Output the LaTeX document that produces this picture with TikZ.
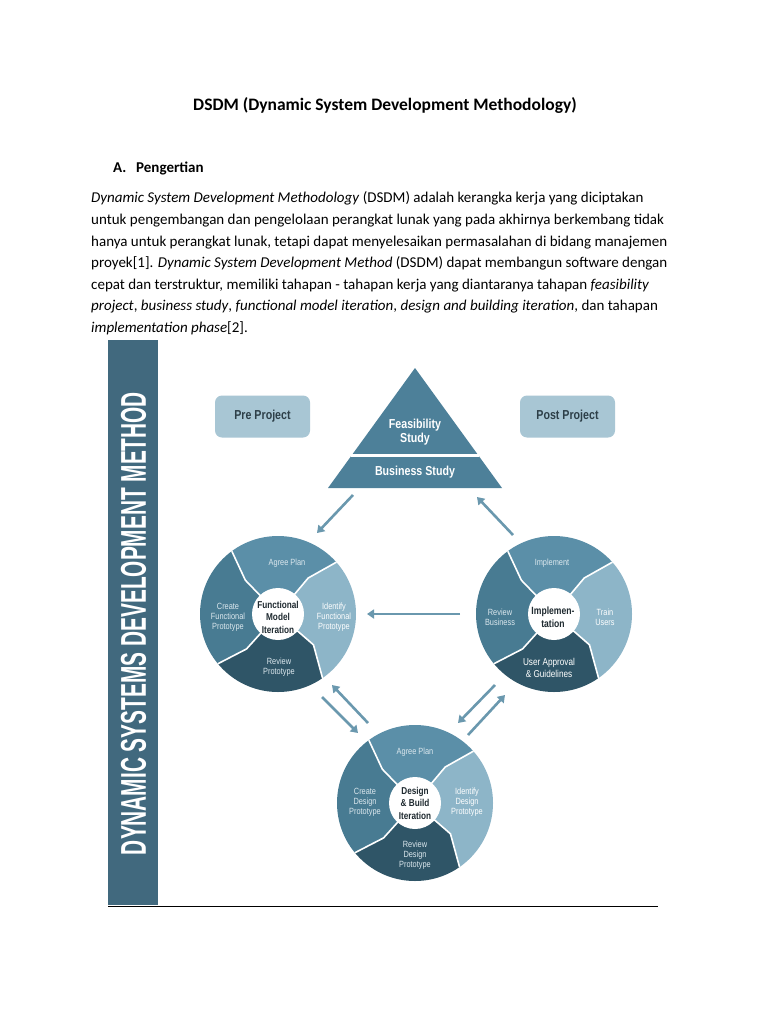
\documentclass[tikz,border=0pt]{standalone}
\usepackage{fontspec}
\setmainfont{Carlito}
\newfontfamily\cond[FakeStretch=0.82]{Liberation Sans}
\usetikzlibrary{arrows.meta}
\definecolor{barc}{HTML}{41697E}
\definecolor{tric}{HTML}{4D8099}
\definecolor{boxc}{HTML}{A8C6D4}
\definecolor{boxt}{HTML}{2D3F48}
\definecolor{cagree}{HTML}{5B8FA8}
\definecolor{cident}{HTML}{8DB5C8}
\definecolor{crev}{HTML}{2F5567}
\definecolor{ccreate}{HTML}{487B92}
\definecolor{arrc}{HTML}{6A98AE}
\definecolor{ctxt}{HTML}{1F2A30}
\definecolor{stxt}{HTML}{DCE8EE}
\newcommand\drawwheel[2]{%
\begin{scope}[shift={(#1,#2)}, y=1pt]
 \begin{scope}
  \clip (0,0) circle (78);
  \fill[cagree] (0,0) -- (134:47) -- (123:110) -- (90:125) -- (38:110) -- (50:47) -- cycle;
  \fill[cident] (0,0) -- (50:47) -- (38:110) -- (0:125) -- (-61:110) -- (-41:47) -- cycle;
  \fill[crev] (0,0) -- (-41:47) -- (-61:110) -- (-90:125) -- (-144:110) -- (-132:47) -- cycle;
  \fill[ccreate] (0,0) -- (-132:47) -- (-144:110) -- (180:125) -- (123:110) -- (134:47) -- cycle;
  \draw[white, line width=1.6pt, line join=round]
     (0,0) -- (134:47) -- (123:110)
     (0,0) -- (50:47) -- (38:110)
     (0,0) -- (-41:47) -- (-61:110)
     (0,0) -- (-132:47) -- (-144:110);
 \end{scope}
 \fill[white] (0,0) circle (26);
\end{scope}}
\begin{document}
\begin{tikzpicture}[x=1pt,y=-1pt,
  body/.style={anchor=base west, inner sep=0, font=\fontsize{15}{17}\selectfont},
  prebox/.style={fill=boxc, rounded corners=7pt, minimum width=95pt, minimum height=42pt,
     font=\cond\bfseries\fontsize{13}{15}\selectfont, text=boxt, inner sep=0},
  tritxt/.style={font=\cond\bfseries\fontsize{13}{15}\selectfont, text=white, inner sep=0, align=center},
  seg/.style={font=\cond\fontsize{9}{10}\selectfont, text=stxt, align=center, inner sep=0},
  ctr/.style={font=\cond\bfseries\fontsize{10}{12.5}\selectfont, text=ctxt, align=center, inner sep=0},
  arr/.style={draw=arrc, line width=2.6pt, -{Triangle[length=7pt,width=9pt]}}]
\useasboundingbox (0,0) rectangle (768,1024);
\fill[white] (0,0) rectangle (768,1024);

% header text
\node[anchor=base, inner sep=0, font=\bfseries\fontsize{17.5}{20}\selectfont] (title) at (385,111)
  {DSDM (Dynamic System Development Methodology)};
\node[anchor=base west, inner sep=0, font=\bfseries\fontsize{15}{17}\selectfont] (secA) at (113,173) {A.};
\node[anchor=base west, inner sep=0, font=\bfseries\fontsize{15}{17}\selectfont] (secT) at (136,173) {Pengertian};
\node[body] (l1) at (91,203) {\textit{Dynamic System Development Methodology} (DSDM) adalah kerangka kerja yang diciptakan};
\node[body] (l2) at (91,224.5) {untuk pengembangan dan pengelolaan perangkat lunak yang pada akhirnya berkembang tidak};
\node[body] (l3) at (91,246) {hanya untuk perangkat lunak, tetapi dapat menyelesaikan permasalahan di bidang manajemen};
\node[body] (l4) at (91,267.5) {proyek[1]. \textit{Dynamic System Development Method} (DSDM) dapat membangun software dengan};
\node[body] (l5) at (91,289) {cepat dan terstruktur, memiliki tahapan - tahapan kerja yang diantaranya tahapan \textit{feasibility}};
\node[body] (l6) at (91,310.5) {\textit{project}, \textit{business study}, \textit{functional model iteration}, \textit{design and building iteration}, dan tahapan};
\node[body] (l7) at (91,332) {\textit{implementation phase}[2].};

% left bar
\fill[barc] (108,340) rectangle (158,905);
\node[rotate=90, text=white, inner sep=0] (bartxt) at (133.5,623.5)
  {\resizebox{463pt}{25pt}{\cond\bfseries DYNAMIC SYSTEMS DEVELOPMENT METHOD}};
\draw[black, line width=0.9pt] (108,906) -- (658,906);

% pre / post project
\node[prebox] (pre) at (262.5,416.5) {Pre Project};
\node[prebox] (post) at (567.5,416.5) {Post Project};

% triangle
\fill[tric] (415,368) -- (502,488) -- (328,488) -- cycle;
\draw[white, line width=3pt] (351,455) -- (479,455);
\node[tritxt] (feas) at (415,432) {Feasibility\\[-1pt]Study};
\node[tritxt] (bus) at (415,472) {Business Study};

% wheels
\drawwheel{278}{614}
\drawwheel{554}{614}
\drawwheel{415}{803}

% functional wheel labels
\node[seg] (f1) at (287,563) {Agree Plan};
\node[seg] (f2) at (228,617) {Create\\Functional\\Prototype};
\node[seg, text=white] (f3) at (334,617) {Identify\\Functional\\Prototype};
\node[seg] (f4) at (279,667) {Review\\Prototype};
\node[ctr] (fc) at (278,617) {Functional\\Model\\Iteration};

% implementation wheel labels
\node[seg] (i1) at (552,563) {Implement};
\node[seg] (i2) at (500,617) {Review\\Business};
\node[seg, text=white] (i3) at (605,617) {Train\\Users};
\node[seg, font=\cond\fontsize{10}{12}\selectfont, text=white] (i4) at (549,668) {User Approval\\\& Guidelines};
\node[ctr, font=\cond\bfseries\fontsize{10.5}{13}\selectfont] (ic) at (553,617) {Implemen-\\tation};

% design wheel labels
\node[seg] (d1) at (415,752) {Agree Plan};
\node[seg] (d2) at (365,802) {Create\\Design\\Prototype};
\node[seg, text=white] (d3) at (467,802) {Identify\\Design\\Prototype};
\node[seg] (d4) at (415,855) {Review\\Design\\Prototype};
\node[ctr] (dc) at (415,803) {Design\\\& Build\\Iteration};

% arrows
\coordinate (a1s) at (353,495); \coordinate (a1e) at (317,533);
\coordinate (a2s) at (513,535); \coordinate (a2e) at (477,497);
\coordinate (a3s) at (460,614); \coordinate (a3e) at (367,614);
\coordinate (a4s) at (322,697); \coordinate (a4e) at (358,733);
\coordinate (a5s) at (368,723); \coordinate (a5e) at (332,685);
\coordinate (a6s) at (495,685); \coordinate (a6e) at (458,723);
\coordinate (a7s) at (468,735); \coordinate (a7e) at (505,695);
\draw[arr] (a1s) -- (a1e);
\draw[arr] (a2s) -- (a2e);
\draw[arr] (a3s) -- (a3e);
\draw[arr] (a4s) -- (a4e);
\draw[arr] (a5s) -- (a5e);
\draw[arr] (a6s) -- (a6e);
\draw[arr] (a7s) -- (a7e);
\end{tikzpicture}
\end{document}
